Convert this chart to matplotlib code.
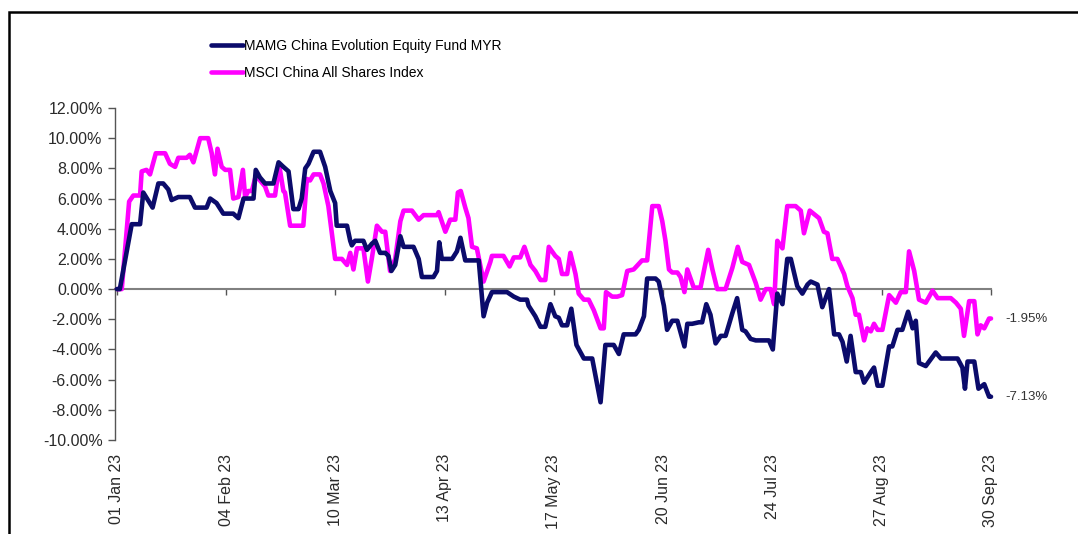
import matplotlib
matplotlib.use("Agg")
import matplotlib.pyplot as plt
from matplotlib.patches import Rectangle
import pandas as pd

plt.rcParams['font.family'] = ['Liberation Sans', 'DejaVu Sans']

# days since 01 Jan 23, cumulative return in %
fund_day = [0, 0.9, 4.6, 7.2, 8.2, 11.1, 12.9, 14.4, 16.0, 17.0, 19.1, 22.7, 24.3, 27.9, 29.0, 31.0, 33.1, 36.2,
            37.8, 39.4, 42.5, 43.2, 44.5, 46.1, 48.7, 50.3, 51.8,
            53.4, 54.9, 56.5, 57.5, 58.6, 59.6, 61.2, 63.2, 64.8, 66.4, 67.9, 68.4, 71.6, 72.6, 73.1, 74.1, 76.7,
            77.8, 79.3, 80.4, 81.9, 83.5, 84.5, 85.4, 86.6, 88.2, 89.2, 90.8, 92.3, 93.9, 94.9, 98.5, 99.6, 100.3,
            101.1, 104.3, 105.8, 106.9,
            108.4, 112.6, 114.1, 115.2, 116.7, 121.4, 123.5, 125.5, 127.6, 128.1, 130.2, 131.8, 133.3, 134.9, 136.4,
            137.5, 138.5, 140.1, 141.4, 143.0, 145.3, 147.9, 150.5, 152.0, 154.6, 156.2, 157.7, 161.4,
            162.4, 164.0, 165.0, 167.6, 168.6, 170.2, 171.2, 172.8, 174.4, 176.6, 177.5, 179.0, 181.1, 182.1, 183.4,
            184.7, 186.3, 187.9, 189.4, 191.5, 193.0, 194.6, 195.6, 197.2, 198.8, 202.9, 204.1, 205.5, 207.1, 208.6,
            209.7, 211.7, 213.3, 214.9,
            215.9, 218.0, 219.5, 221.6, 223.2, 224.7, 225.8, 227.1, 228.3, 229.9, 231.5, 232.5, 234.6, 235.6, 236.7,
            238.2, 240.3, 241.3, 242.9, 244.4, 246.2, 247.6, 248.6, 249.6, 251.7, 254.8, 256.4, 261.6, 263.1, 263.9,
            264.7, 266.8, 268.1, 269.9, 271.4, 272]
fund_val = [0, 0, 4.3, 4.3, 6.4, 5.4, 7.0, 7.0, 6.6, 5.9, 6.1, 6.1, 5.4, 5.4, 6.0, 5.7, 5.0, 5.0,
            4.7, 6.0, 6.0, 7.9, 7.4, 7.0, 7.0, 8.4, 8.1,
            7.8, 5.3, 5.3, 6.0, 8.0, 8.3, 9.1, 9.1, 8.1, 6.5, 5.7, 4.2, 4.2, 3.2, 2.9, 3.2, 3.2,
            2.6, 3.0, 3.2, 2.4, 2.4, 2.2, 1.2, 1.6, 3.5, 2.8, 2.8, 2.8, 2.0, 0.8, 0.8, 1.2, 3.1,
            2.0, 2.0, 2.5, 3.4,
            1.9, 1.9, -1.8, -0.9, -0.2, -0.2, -0.5, -0.7, -0.7, -1.1, -1.8, -2.5, -2.5, -1.0, -1.8,
            -1.9, -2.4, -2.4, -1.3, -3.7, -4.6, -4.6, -7.5, -3.7, -3.7, -4.3, -3.0, -3.0,
            -2.7, -1.8, 0.7, 0.7, 0.5, -1.1, -2.7, -2.1, -2.1, -3.8, -2.3, -2.3, -2.2, -2.2, -1.0,
            -1.7, -3.6, -3.1, -3.1, -1.6, -0.6, -2.7, -2.8, -3.3, -3.4, -3.4, -4.0, -0.3, -1.0, 2.0,
            2.0, 0.2, -0.3, 0.3,
            0.5, 0.3, -1.2, 0.0, -3.0, -3.0, -3.5, -4.8, -3.1, -5.5, -5.5, -6.2, -5.5, -5.2, -6.4,
            -6.4, -3.8, -3.8, -2.7, -2.7, -1.5, -2.6, -2.1, -4.9, -5.1, -4.2, -4.6, -4.6, -5.2, -6.6,
            -4.8, -4.8, -6.6, -6.3, -7.13, -7.13]

index_day = [0, 1.5, 3.8, 5.1, 7.2, 7.7, 9.2, 10.3, 12.1, 15.0, 16.5, 18.1, 19.1, 21.7, 22.7, 23.8, 25.9, 28.4,
             29.5, 30.5, 31.3, 32.6, 33.7, 35.2, 36.2, 37.8, 39.2, 39.9, 40.9, 42.0, 43.2, 44.5, 46.1, 47.1, 49.2,
             50.5, 51.8,
             52.3, 53.9, 58.0, 59.1, 60.1, 61.2, 63.2, 64.3, 65.8, 67.9, 70.0, 71.6, 72.6, 73.6, 74.7, 76.7, 78.1,
             79.3, 80.9, 82.5, 83.5, 85.0, 86.6, 88.2, 89.2, 91.8, 93.9, 95.4, 99.6, 100.1, 102.2, 103.7, 105.3,
             106.1, 107.0, 108.4, 109.4, 110.5,
             112.0, 114.1, 116.2, 116.7, 120.3, 122.2, 123.5, 125.5, 126.8, 128.7, 130.2, 131.8, 133.3, 134.4,
             136.4, 137.5, 138.5, 140.1, 141.1, 142.7, 143.7, 145.3, 146.8, 148.4, 150.5, 151.5, 152.2, 154.1,
             155.7, 157.2, 158.8, 160.8,
             163.4, 165.0, 166.6, 168.6, 169.7, 170.7, 171.8, 172.8, 174.4, 175.4, 176.6, 177.5, 179.5, 181.6,
             184.0, 185.3, 186.8, 189.4, 191.5, 193.2, 194.6, 196.7, 198.8, 200.3, 201.9, 203.4, 204.5, 205.5,
             207.1, 208.6, 211.2, 212.8, 213.8,
             215.6, 218.5, 220.0, 221.1, 222.6, 224.2, 226.3, 227.3, 228.9, 229.9, 230.9, 232.5, 233.5, 234.6,
             235.6, 236.7, 238.2, 240.3, 242.4, 243.9, 245.5, 246.5, 248.1, 249.6, 251.7, 253.8, 255.4, 259.5,
             261.1, 262.6, 263.6, 265.2, 266.8, 267.8, 268.8, 269.9, 271.4, 272]
index_val = [0, 0, 5.8, 6.2, 6.2, 7.8, 7.9, 7.6, 9.0, 9.0, 8.3, 8.1, 8.7, 8.7, 8.9, 8.4, 10.0, 10.0,
             9.0, 7.6, 9.3, 8.1, 7.9, 7.9, 6.0, 6.1, 7.9, 6.1, 6.5, 6.5, 7.5, 7.2, 6.8, 6.2, 6.2,
             8.2, 6.5,
             6.4, 4.2, 4.2, 7.3, 7.2, 7.6, 7.6, 7.0, 5.5, 2.0, 2.0, 1.6, 2.4, 1.3, 2.7, 2.7, 0.5,
             2.0, 4.2, 3.8, 3.8, 1.2, 2.0, 4.5, 5.2, 5.2, 4.6, 4.9, 4.9, 5.1, 3.8, 4.6, 4.6,
             6.4, 6.5, 5.4, 4.7, 2.8,
             2.7, 0.5, 1.8, 2.2, 2.2, 1.5, 2.1, 2.1, 2.8, 1.6, 1.2, 0.6, 0.6, 2.8,
             2.2, 2.0, 1.0, 1.0, 2.4, 1.0, -0.3, -0.7, -0.7, -1.4, -2.6, -2.6, -0.2, -0.5,
             -0.5, -0.4, 1.2, 1.3,
             1.9, 1.9, 5.5, 5.5, 4.5, 3.2, 1.3, 1.1, 1.1, 0.8, -0.2, 1.3, 0.1, 0.1,
             2.6, 1.3, 0.0, 0.0, 1.4, 2.8, 1.8, 1.6, 0.4, -0.7, 0.0, 0.0, -1.0, 3.2,
             2.7, 5.5, 5.5, 5.2, 3.7,
             5.2, 4.7, 3.8, 3.7, 2.0, 2.0, 1.0, 0.2, -0.6, -1.7, -1.7, -3.4, -2.6, -2.8,
             -2.3, -2.7, -2.7, -0.4, -0.9, -0.2, -0.2, 2.5, 1.2, -0.7, -0.9, -0.1, -0.6, -0.6,
             -0.9, -1.3, -3.1, -0.8, -0.8, -3.0, -2.4, -2.6, -1.95, -1.95]

fund_name = 'MAMG China Evolution Equity Fund MYR'
index_name = 'MSCI China All Shares Index'
start = pd.Timestamp('2023-01-01')
tick_days = list(range(0, 273, 34))
tick_labels = [(start + pd.Timedelta(days=d)).strftime('%d %b %y') for d in tick_days]
y_ticks = list(range(-10, 13, 2))

W, H = 1078, 534
fig = plt.figure(figsize=(W / 100, H / 100), dpi=100)
ax = fig.add_axes([115 / W, 1 - 440 / H, (991 - 115) / W, (440 - 108) / H])

navy = '#0b0b6b'
pink = '#ff00ff'
l1, = ax.plot(fund_day, fund_val, color=navy, lw=3.3, solid_joinstyle='round',
              solid_capstyle='round', clip_on=False, zorder=3, label=fund_name)
l2, = ax.plot(index_day, index_val, color=pink, lw=3.3, solid_joinstyle='round',
              solid_capstyle='round', clip_on=False, zorder=2, label=index_name)

ax.set_xlim(-0.6, 272)
ax.set_ylim(-10, 12)
ax.set_yticks(y_ticks)
ax.set_yticklabels([f'{v:.2f}%' for v in y_ticks])
ax.set_xticks(tick_days)
ax.set_xticklabels(tick_labels, rotation=90)
for s in ['top', 'right', 'bottom']:
    ax.spines[s].set_visible(False)
ax.spines['left'].set_color('#555555')
ax.spines['left'].set_linewidth(1.0)
ax.tick_params(axis='y', direction='out', length=5, width=1, color='#555555',
               labelsize=11.5, labelcolor='#2a2a2a', pad=4)
ax.tick_params(axis='x', length=0, labelsize=11.5, labelcolor='#2a2a2a', pad=10)

# zero line with date ticks
sec = ax.secondary_xaxis(10 / 22)
sec.set_xticks(tick_days)
sec.set_xticklabels([])
sec.tick_params(direction='out', length=4, width=1, color='#555555')
sec.spines['bottom'].set_color('#808080')
sec.spines['bottom'].set_linewidth(1.5)

# end values
ax.annotate(f'{index_val[-1]:.2f}%', (index_day[-1], index_val[-1]), xytext=(14, 0),
            textcoords='offset pixels', va='center', ha='left', fontsize=9.5, color='#333333')
ax.annotate(f'{fund_val[-1]:.2f}%', (fund_day[-1], fund_val[-1]), xytext=(14, 0),
            textcoords='offset pixels', va='center', ha='left', fontsize=9.5, color='#333333')

fig.legend(handles=[l1, l2], loc='upper left', bbox_to_anchor=(205 / W, 1 - 33 / H),
           frameon=False, fontsize=10, handlelength=2.3, handletextpad=0.1,
           labelspacing=0.95, borderaxespad=0)

fig.add_artist(Rectangle((8.5 / W, -0.05), 1.1, 1.05 - 12 / H, transform=fig.transFigure,
                         fill=False, edgecolor='black', lw=1.8))

fig.savefig('out.png', dpi=100)
